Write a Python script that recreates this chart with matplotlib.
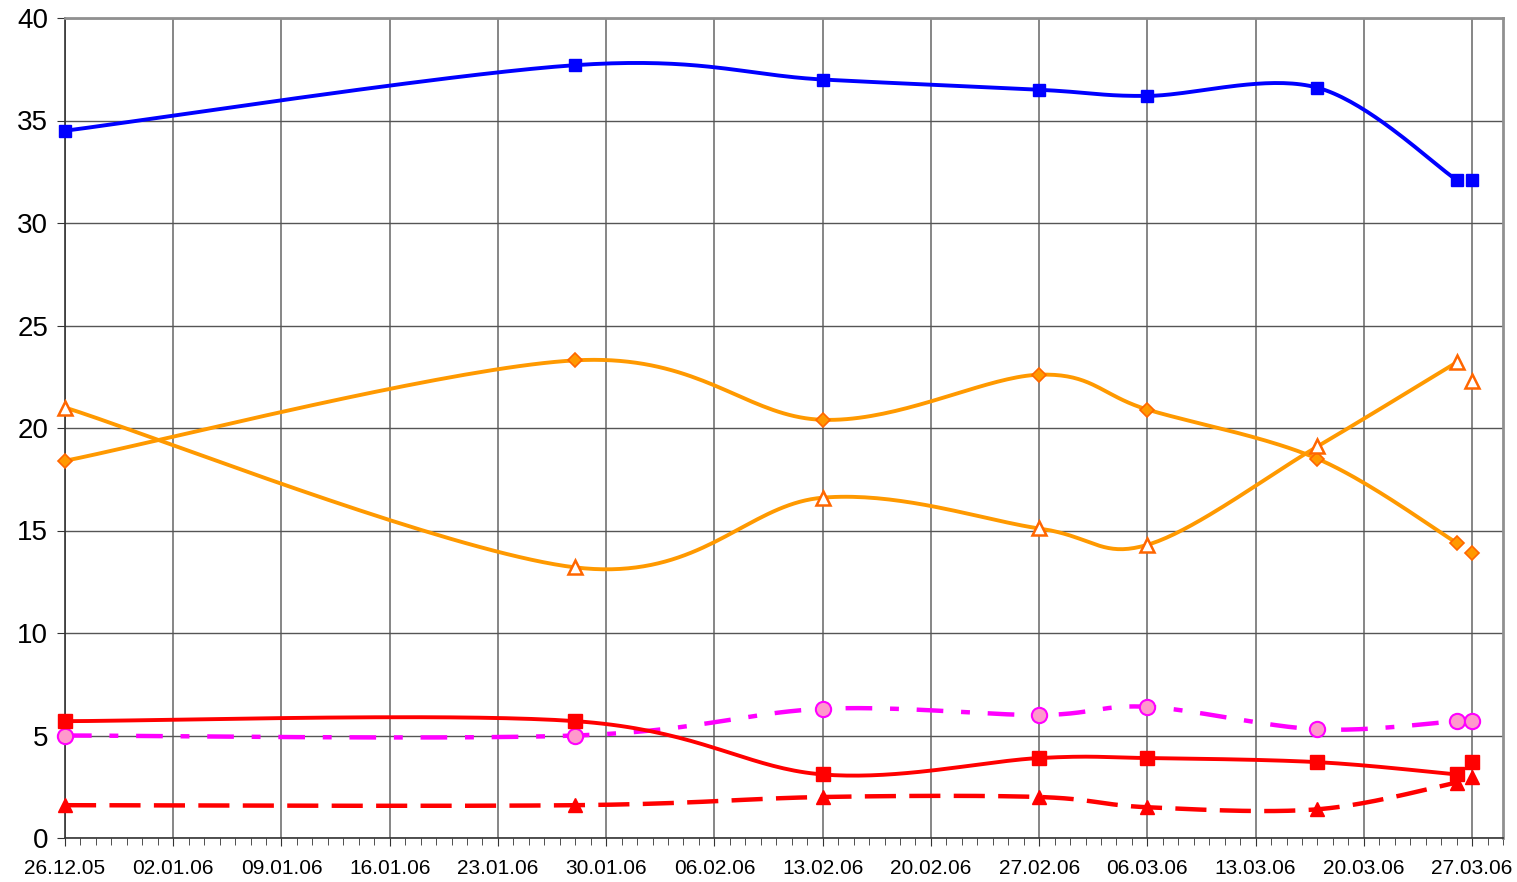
import numpy as np
import matplotlib
matplotlib.use("Agg")
import matplotlib.pyplot as plt
from matplotlib.ticker import MultipleLocator

plt.rcParams['font.family'] = ['Liberation Sans', 'DejaVu Sans']

# days since 26.12.05
days = [0, 33, 49, 63, 70, 81, 90, 91]
tick_labels = ["26.12.05", "02.01.06", "09.01.06", "16.01.06", "23.01.06", "30.01.06",
               "06.02.06", "13.02.06", "20.02.06", "27.02.06", "06.03.06", "13.03.06",
               "20.03.06", "27.03.06"]

blue = [34.5, 37.7, 37.0, 36.5, 36.2, 36.6, 32.1, 32.1]
orange_diamond = [18.4, 23.3, 20.4, 22.6, 20.9, 18.5, 14.4, 13.9]
orange_triangle = [21.0, 13.2, 16.6, 15.1, 14.3, 19.1, 23.2, 22.3]
pink = [5.0, 5.0, 6.3, 6.0, 6.4, 5.3, 5.7, 5.7]
red_square = [5.7, 5.7, 3.1, 3.9, 3.9, 3.7, 3.1, 3.7]
red_triangle = [1.6, 1.6, 2.0, 2.0, 1.5, 1.4, 2.7, 3.0]


def smooth(x, y, n=40):
    # Catmull-Rom (Excel-like) parametric smoothing
    P = np.column_stack([x, y]).astype(float)
    pts = []
    for i in range(len(P) - 1):
        p0 = P[i - 1] if i > 0 else P[i]
        p1 = P[i]
        p2 = P[i + 1]
        p3 = P[i + 2] if i + 2 < len(P) else P[i + 1]
        c1 = p1 + (p2 - p0) / 6.0
        c2 = p2 - (p3 - p1) / 6.0
        t = np.linspace(0, 1, n)[:, None]
        seg = ((1 - t) ** 3) * p1 + 3 * ((1 - t) ** 2) * t * c1 + 3 * (1 - t) * t ** 2 * c2 + t ** 3 * p2
        pts.append(seg if i == 0 else seg[1:])
    pts = np.vstack(pts)
    return pts[:, 0], pts[:, 1]


fig = plt.figure(figsize=(15.17, 8.82), dpi=100)
ax = fig.add_axes([65 / 1517, 1 - 838 / 882, (1503 - 65) / 1517, (838 - 18) / 882])

ax.set_xlim(0, 93)
ax.set_ylim(0, 40)

ax.set_xticks(np.arange(0, 92, 7))
ax.set_xticklabels(tick_labels)
ax.xaxis.set_minor_locator(MultipleLocator(1))
ax.set_yticks(np.arange(0, 41, 5))

ax.grid(True, which='major', axis='x', color='#666666', linewidth=1.1)
ax.grid(True, which='major', axis='y', color='#555555', linewidth=1.0)
ax.set_axisbelow(True)

for s in ['top', 'right']:
    ax.spines[s].set_color('#909090')
    ax.spines[s].set_linewidth(2)
for s in ['left', 'bottom']:
    ax.spines[s].set_color('#333333')
    ax.spines[s].set_linewidth(1.2)

ax.tick_params(axis='x', which='major', length=6, labelsize=15, pad=9, color='#333333')
ax.tick_params(axis='x', which='minor', length=5, color='#333333')
ax.tick_params(axis='y', which='major', length=6, labelsize=20, pad=6, color='#333333')


def series(vals, color, lw, marker, mfc, mec, ms, mew=1.0, dashes=None):
    sx, sy = smooth(days[:7], vals[:7])
    kw = {} if dashes is None else {'dashes': dashes}
    ax.plot(sx, sy, color=color, lw=lw, zorder=3, solid_capstyle='butt', **kw)
    ax.plot(days, vals, marker, linestyle='none', mfc=mfc, mec=mec, mew=mew, ms=ms,
            zorder=4, clip_on=False)


series(blue, '#0000FF', 2.8, 's', '#0000FF', '#0000FF', 8)
series(orange_diamond, '#FF9900', 2.8, 'D', '#FF9900', '#FF6600', 7, mew=1.2)
series(orange_triangle, '#FF9900', 2.8, '^', 'white', '#FF6600', 10, mew=1.8)
series(pink, '#FF00FF', 3.2, 'o', '#FF99CC', '#FF00FF', 11, mew=1.5, dashes=(6, 4, 2, 4))
series(red_square, '#FF0000', 2.8, 's', '#FF0000', '#FF0000', 10)
series(red_triangle, '#FF0000', 3.2, '^', '#FF0000', '#FF0000', 10, dashes=(7, 3))

fig.savefig("out.png", dpi=100)
